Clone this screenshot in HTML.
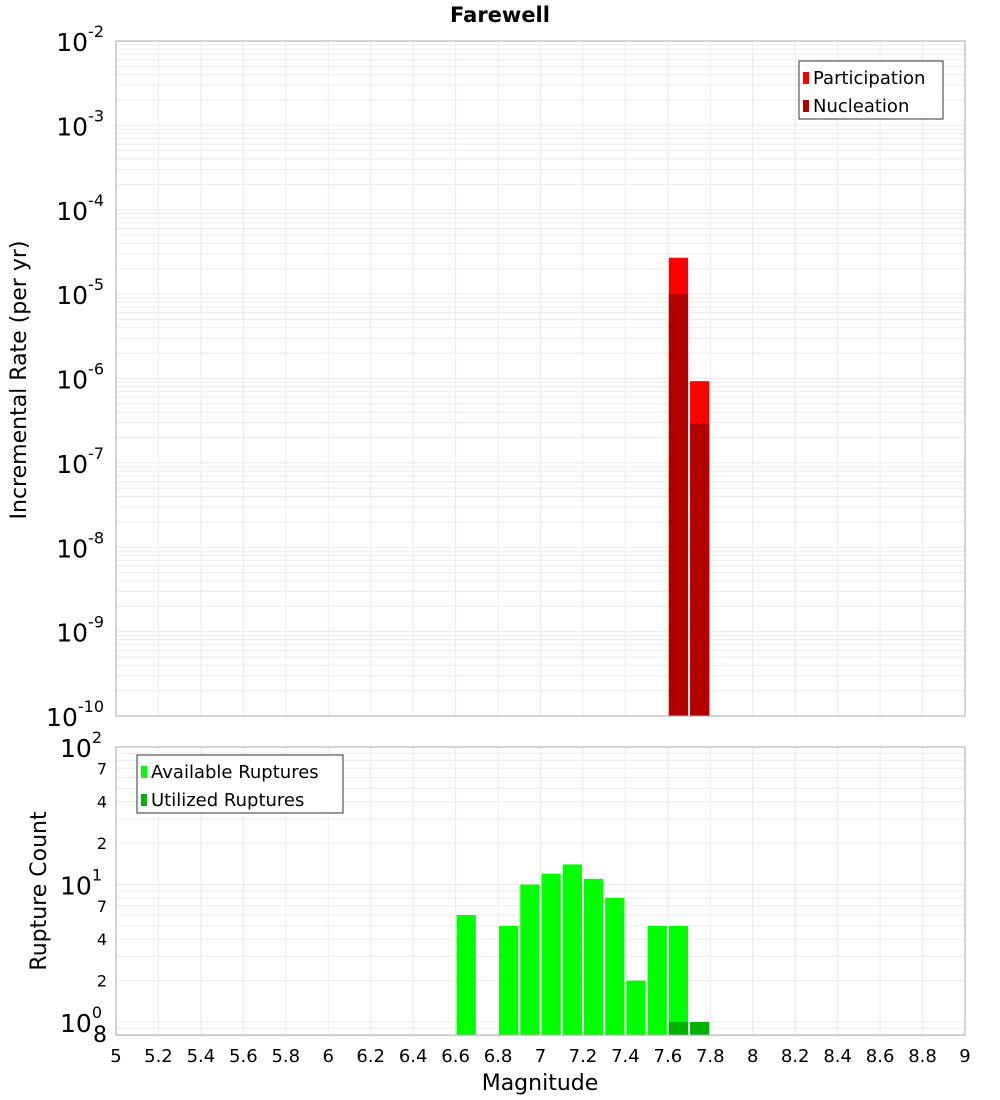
<!DOCTYPE html>
<html><head><meta charset="utf-8"><style>
body{margin:0;background:#fff;}
svg{display:block;font-family:"DejaVu Sans","Liberation Sans",sans-serif;}
</style></head><body>
<svg id="c" width="1000" height="1100"></svg>
<script>
const binCenters=[7.65,7.75];
const participation=[2.7e-5,9.3e-7];
const nucleation=[1.0e-5,2.9e-7];
const countBins=[6.65,6.85,6.95,7.05,7.15,7.25,7.35,7.45,7.55,7.65];
const available=[6,5,10,12,14,11,8,2,5,5];
const utilBins=[7.65,7.75];
const utilized=[1,1];
const xTicks=[5,5.2,5.4,5.6,5.8,6,6.2,6.4,6.6,6.8,7,7.2,7.4,7.6,7.8,8,8.2,8.4,8.6,8.8,9];
const topExps=[-2,-3,-4,-5,-6,-7,-8,-9,-10];
const botMinor=[7,4,2];

const NS="http://www.w3.org/2000/svg",svg=document.getElementById('c');
function el(t,a,p){const e=document.createElementNS(NS,t);for(const k in a)e.setAttribute(k,a[k]);(p||svg).appendChild(e);return e;}
const X0=116,X1=965;
const xs=m=>X0+(m-5)/4*(X1-X0);
const T0=41,T1=716;
const yt=v=>T0+(-2-Math.log10(v))/8*(T1-T0);
const B0=747,B1=1035,BD=137.5;
const yb=v=>B0+(2-Math.log10(v))*BD;

el('text',{x:500,y:22,'text-anchor':'middle','font-size':21,'font-weight':'bold'}).textContent='Farewell';
// grids
const g=el('g',{stroke:'#ebebeb','stroke-width':1});

xTicks.forEach(t=>{el('line',{x1:xs(t),x2:xs(t),y1:T0,y2:T1},g);el('line',{x1:xs(t),x2:xs(t),y1:B0,y2:B1},g);});
for(let e=-10;e<-2;e++)for(let k=1;k<10;k++){const y=yt(k*Math.pow(10,e));el('line',{x1:X0,x2:X1,y1:y,y2:y},g);}
for(let e=-1;e<2;e++)for(let k=1;k<10;k++){const v=k*Math.pow(10,e);if(v<0.8)continue;const y=yb(v);el('line',{x1:X0,x2:X1,y1:y,y2:y},g);}
// top bars
binCenters.forEach((m,i)=>{
 let r=el('rect',{x:xs(m-0.05)+1,y:yt(participation[i]),width:xs(m+0.05)-xs(m-0.05)-2,height:T1-yt(participation[i]),fill:'#ff0000'});
 
 r=el('rect',{x:xs(m-0.05)+1,y:yt(nucleation[i]),width:xs(m+0.05)-xs(m-0.05)-2,height:T1-yt(nucleation[i]),fill:'#b20000'});
 
});
countBins.forEach((m,i)=>{
 const r=el('rect',{x:xs(m-0.05)+1,y:yb(available[i]),width:xs(m+0.05)-xs(m-0.05)-2,height:B1-yb(available[i]),fill:'#00ff00'});
 
});
utilBins.forEach((m,i)=>{
 const r=el('rect',{x:xs(m-0.05)+1,y:yb(utilized[i]),width:xs(m+0.05)-xs(m-0.05)-2,height:B1-yb(utilized[i]),fill:'#00b200'});
 
});
// frames
el('rect',{x:X0,y:T0,width:X1-X0,height:T1-T0,fill:'none',stroke:'#aaa'});
el('rect',{x:X0,y:B0,width:X1-X0,height:B1-B0,fill:'none',stroke:'#aaa'});
// top y labels
topExps.forEach(e=>{const y=yt(Math.pow(10,e));
 const t=el('text',{x:104,y:y+10,'text-anchor':'end','font-size':25});
 
 t.textContent='10';const s=el('tspan',{dy:-14,'font-size':16},t);s.textContent=String(e);});
// bottom y labels
[2,1,0].forEach(e=>{const y=yb(Math.pow(10,e));
 const t=el('text',{x:102,y:y+10,'text-anchor':'end','font-size':25});
 
 t.textContent='10';const s=el('tspan',{dy:-14,'font-size':16},t);s.textContent=String(e);});
[1,0].forEach(e=>botMinor.forEach(k=>{const y=yb(k*Math.pow(10,e));
 const t=el('text',{x:107,y:y+6,'text-anchor':'end','font-size':16});t.textContent=String(k);}));
el('text',{x:107,y:1042,'text-anchor':'end','font-size':22}).textContent='8';
// x ticks
xTicks.forEach(t=>{const tx=el('text',{x:xs(t),y:1062,'text-anchor':'middle','font-size':18});
 tx.textContent=String(t);});
el('text',{x:540,y:1090,'text-anchor':'middle','font-size':22}).textContent='Magnitude';
el('text',{x:26,y:380,'text-anchor':'middle','font-size':22,transform:'rotate(-90 26 380)'}).textContent='Incremental Rate (per yr)';
el('text',{x:46,y:891,'text-anchor':'middle','font-size':22,transform:'rotate(-90 46 891)'}).textContent='Rupture Count';
// legends
function legend(x,y,w,items){const lg=el('g',{});
 el('rect',{x:x,y:y,width:w,height:58,fill:'#fff',stroke:'#333'},lg);
 items.forEach((it,i)=>{el('rect',{x:x+4,y:y+11+i*28,width:6,height:12,fill:it[1]},lg);
  const t=el('text',{x:x+14,y:y+23+i*28,'font-size':18},lg);t.textContent=it[0];});}
legend(799,61,144,[['Participation','#ff0000'],['Nucleation','#b20000']]);
legend(137,755,206,[['Available Ruptures','#00ff00'],['Utilized Ruptures','#00b200']]);
</script>
</body></html>
